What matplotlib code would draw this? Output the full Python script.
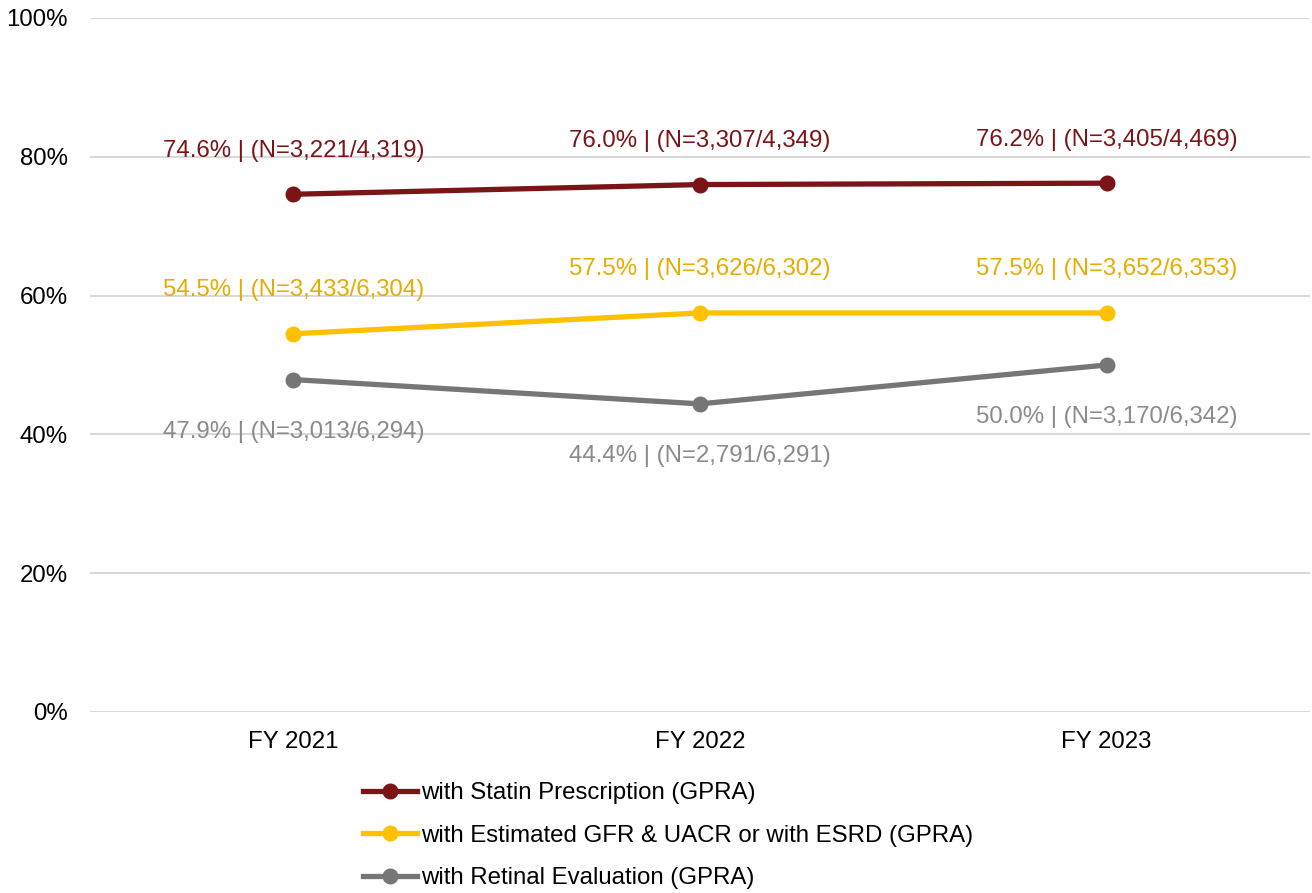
import matplotlib
matplotlib.use("Agg")
import matplotlib.pyplot as plt
from matplotlib.lines import Line2D

plt.rcParams['font.family'] = ['Liberation Sans', 'DejaVu Sans']

categories = ["FY 2021", "FY 2022", "FY 2023"]
series_names = [
    "with Statin Prescription (GPRA)",
    "with Estimated GFR & UACR or with ESRD (GPRA)",
    "with Retinal Evaluation (GPRA)",
]
statin = [74.6, 76.0, 76.2]
statin_labels = ["74.6% | (N=3,221/4,319)", "76.0% | (N=3,307/4,349)", "76.2% | (N=3,405/4,469)"]
gfr = [54.5, 57.5, 57.5]
gfr_labels = ["54.5% | (N=3,433/6,304)", "57.5% | (N=3,626/6,302)", "57.5% | (N=3,652/6,353)"]
retinal = [47.9, 44.4, 50.0]
retinal_labels = ["47.9% | (N=3,013/6,294)", "44.4% | (N=2,791/6,291)", "50.0% | (N=3,170/6,342)"]
yticks = [0, 20, 40, 60, 80, 100]

line_colors = ["#7B1416", "#FFC000", "#767676"]
label_colors = ["#7B1416", "#E6AC00", "#8A8A8A"]
offsets = [43.5, 43.5, -52.5]  # pixels: above / below

FS = 17.3
W, H = 1312, 893
fig = plt.figure(figsize=(W / 100, H / 100), dpi=100)
ax = fig.add_axes([90 / W, 1 - 712 / H, (1310 - 90) / W, (712 - 18) / H])

x = list(range(len(categories)))
data = [statin, gfr, retinal]
labels = [statin_labels, gfr_labels, retinal_labels]
handles = []
for vals, labs, lc, tc, off, name in zip(data, labels, line_colors, label_colors, offsets, series_names):
    ax.plot(x, vals, color=lc, lw=3.8, marker="o", ms=10.5, solid_capstyle="round", zorder=3)
    for xi, v, t in zip(x, vals, labs):
        ax.annotate(t, (xi, v), xytext=(0, off * 0.72), textcoords="offset points",
                    ha="center", va="center", color=tc, fontsize=FS)
    handles.append(Line2D([0], [0], color=lc, lw=3.8, marker="o", ms=10.5, label=name))

ax.set_xlim(-0.5, 2.5)
ax.set_ylim(0, 100)
ax.set_yticks(yticks)
ax.set_yticklabels([f"{t}%" for t in yticks], fontsize=FS)
ax.set_xticks(x)
ax.set_xticklabels(categories, fontsize=FS)
ax.grid(axis="y", color="#D9D9D9", lw=1.5)
ax.set_axisbelow(True)
ax.tick_params(length=0)
ax.tick_params(axis="x", pad=14)
ax.tick_params(axis="y", pad=16)
for s in ax.spines.values():
    s.set_visible(False)

leg = fig.legend(handles=handles, loc="upper left", bbox_to_anchor=(363 / W, 1 - 782 / H),
                 frameon=False, fontsize=FS, handlelength=2.25, handletextpad=0.17,
                 labelspacing=0.86, borderpad=0, borderaxespad=0)

fig.savefig("out.png", dpi=100)
